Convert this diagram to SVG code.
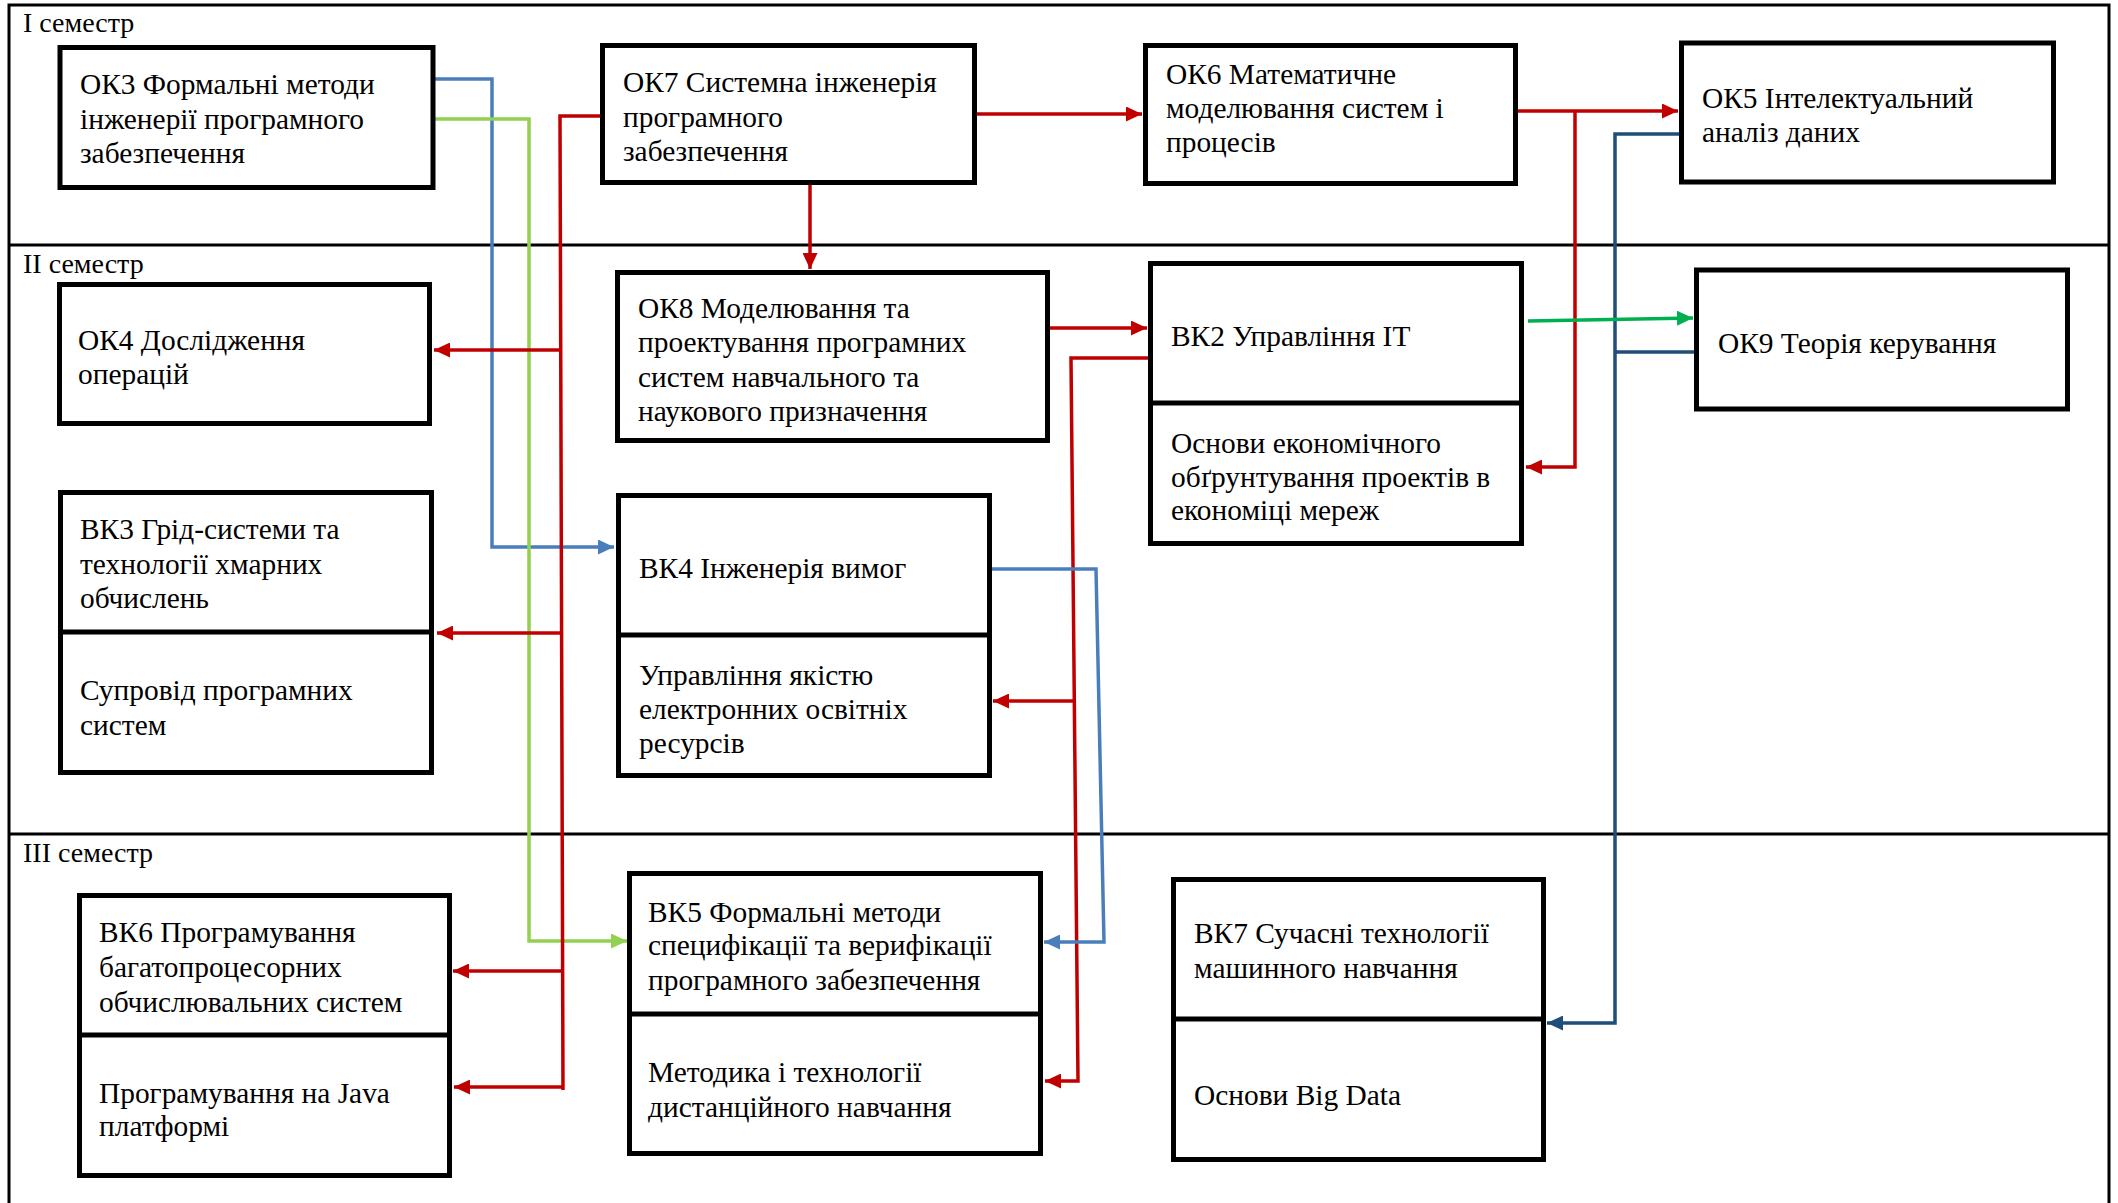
<svg xmlns="http://www.w3.org/2000/svg" width="2118" height="1203" viewBox="0 0 2118 1203">
<style>
  .frame{stroke:#000;stroke-width:3;fill:none}
  .sem{font-family:"Liberation Serif","Times New Roman",serif;font-size:28px;fill:#000}
  .box{fill:#fff;stroke:#000;stroke-width:5}
  .div{stroke:#000;stroke-width:5}
  .t{font-family:"Liberation Serif","Times New Roman",serif;font-size:29.4px;fill:#000}
  .c{fill:none;stroke-width:3.5;stroke-linejoin:miter}
  .red{stroke:#c00000}
  .lblue{stroke:#4a7ebb}
  .lgreen{stroke:#92d050}
  .dblue{stroke:#1f4e79}
  .green{stroke:#00b050}
</style>
<defs>
  <marker id="aRed" markerUnits="userSpaceOnUse" markerWidth="17" markerHeight="15" refX="16" refY="7.5" orient="auto"><path d="M0,0 L16,7.5 L0,15 z" fill="#c00000"/></marker>
  <marker id="aLBlue" markerUnits="userSpaceOnUse" markerWidth="17" markerHeight="15" refX="16" refY="7.5" orient="auto"><path d="M0,0 L16,7.5 L0,15 z" fill="#4a7ebb"/></marker>
  <marker id="aLGreen" markerUnits="userSpaceOnUse" markerWidth="17" markerHeight="15" refX="16" refY="7.5" orient="auto"><path d="M0,0 L16,7.5 L0,15 z" fill="#92d050"/></marker>
  <marker id="aDBlue" markerUnits="userSpaceOnUse" markerWidth="17" markerHeight="15" refX="16" refY="7.5" orient="auto"><path d="M0,0 L16,7.5 L0,15 z" fill="#1f4e79"/></marker>
  <marker id="aGreen" markerUnits="userSpaceOnUse" markerWidth="17" markerHeight="15" refX="16" refY="7.5" orient="auto"><path d="M0,0 L16,7.5 L0,15 z" fill="#00b050"/></marker>
</defs>
<rect width="2118" height="1203" fill="#fff"/>
<g id="frame">
  <path class="frame" d="M9,1203 V5 H2109 V1203"/>
  <line class="frame" x1="9" y1="245" x2="2109" y2="245" stroke-width="2.5"/>
  <line class="frame" x1="9" y1="834" x2="2109" y2="834" stroke-width="2.5"/>
  <text class="sem" x="23" y="32">I семестр</text>
  <text class="sem" x="23" y="273">II семестр</text>
  <text class="sem" x="23" y="862">III семестр</text>
</g>
<g id="connectors">
  <path class="c lblue" d="M435,79 H492 V547 H614" marker-end="url(#aLBlue)"/>
  <path class="c lgreen" d="M435,119 H529 V941 H627" marker-end="url(#aLGreen)"/>
  <path class="c red" d="M600,116 H560 L563,1090"/>
  <path class="c red" d="M561,350 H434" marker-end="url(#aRed)"/>
  <path class="c red" d="M561,633 H437" marker-end="url(#aRed)"/>
  <path class="c red" d="M563,971 H453" marker-end="url(#aRed)"/>
  <path class="c red" d="M563,1087 H454" marker-end="url(#aRed)"/>
  <path class="c red" d="M977,114 H1142" marker-end="url(#aRed)"/>
  <path class="c red" d="M810,185 V269" marker-end="url(#aRed)"/>
  <path class="c red" d="M1518,111 H1678" marker-end="url(#aRed)"/>
  <path class="c red" d="M1575,111 V467 H1526" marker-end="url(#aRed)"/>
  <path class="c dblue" d="M1679,134 H1615 V1023 H1547" marker-end="url(#aDBlue)"/>
  <path class="c dblue" d="M1694,352 H1615"/>
  <path class="c green" d="M1528,321 L1693,318" marker-end="url(#aGreen)"/>
  <path class="c red" d="M1050,328 H1147" marker-end="url(#aRed)"/>
  <path class="c red" d="M1148,358 H1071 L1078,1081 H1045" marker-end="url(#aRed)"/>
  <path class="c red" d="M1073,701 H993" marker-end="url(#aRed)"/>
  <path class="c lblue" d="M992,569 H1096 L1104,942 H1044" marker-end="url(#aLBlue)"/>
</g>
<g id="ok3">
  <rect class="box" x="60" y="47.5" width="373" height="140"/>
  <text class="t" x="80" y="94">ОК3 Формальні методи</text>
  <text class="t" x="80" y="128.5">інженерії програмного</text>
  <text class="t" x="80" y="163">забезпечення</text>
</g>
<g id="ok7">
  <rect class="box" x="602.5" y="45.5" width="372" height="137"/>
  <text class="t" x="623" y="92">ОК7 Системна інженерія</text>
  <text class="t" x="623" y="127">програмного</text>
  <text class="t" x="623" y="161">забезпечення</text>
</g>
<g id="ok6">
  <rect class="box" x="1145.5" y="45.5" width="370" height="138"/>
  <text class="t" x="1166" y="84">ОК6 Математичне</text>
  <text class="t" x="1166" y="118">моделювання систем і</text>
  <text class="t" x="1166" y="152">процесів</text>
</g>
<g id="ok5">
  <rect class="box" x="1681.5" y="43" width="372" height="139"/>
  <text class="t" x="1702" y="108">ОК5 Інтелектуальний</text>
  <text class="t" x="1702" y="142">аналіз даних</text>
</g>
<g id="ok4">
  <rect class="box" x="59.5" y="284.5" width="370" height="139"/>
  <text class="t" x="78" y="350">ОК4 Дослідження</text>
  <text class="t" x="78" y="384">операцій</text>
</g>
<g id="ok8">
  <rect class="box" x="617.5" y="272.5" width="430" height="168"/>
  <text class="t" x="638" y="318">ОК8 Моделювання та</text>
  <text class="t" x="638" y="352">проектування програмних</text>
  <text class="t" x="638" y="387">систем навчального та</text>
  <text class="t" x="638" y="421">наукового призначення</text>
</g>
<g id="vk2">
  <rect class="box" x="1150.5" y="263.5" width="371" height="280"/>
  <line class="div" x1="1150.5" y1="403" x2="1521.5" y2="403"/>
  <text class="t" x="1171" y="346">ВК2 Управління IT</text>
  <text class="t" x="1171" y="453">Основи економічного</text>
  <text class="t" x="1171" y="487">обґрунтування проектів в</text>
  <text class="t" x="1171" y="520">економіці мереж</text>
</g>
<g id="ok9">
  <rect class="box" x="1696.5" y="270" width="371" height="139"/>
  <text class="t" x="1718" y="353">ОК9 Теорія керування</text>
</g>
<g id="vk3">
  <rect class="box" x="60.5" y="492.5" width="371" height="280"/>
  <line class="div" x1="60.5" y1="632" x2="431.5" y2="632"/>
  <text class="t" x="80" y="539">ВК3 Грід-системи та</text>
  <text class="t" x="80" y="574">технології хмарних</text>
  <text class="t" x="80" y="608">обчислень</text>
  <text class="t" x="80" y="700">Супровід програмних</text>
  <text class="t" x="80" y="735">систем</text>
</g>
<g id="vk4">
  <rect class="box" x="618.5" y="495.5" width="371" height="280"/>
  <line class="div" x1="618.5" y1="635" x2="989.5" y2="635"/>
  <text class="t" x="639" y="578">ВК4 Інженерія вимог</text>
  <text class="t" x="639" y="685">Управління якістю</text>
  <text class="t" x="639" y="719">електронних освітніх</text>
  <text class="t" x="639" y="753">ресурсів</text>
</g>
<g id="vk6">
  <rect class="box" x="79.5" y="895.5" width="370" height="280"/>
  <line class="div" x1="79.5" y1="1035" x2="449.5" y2="1035"/>
  <text class="t" x="99" y="942">ВК6 Програмування</text>
  <text class="t" x="99" y="977">багатопроцесорних</text>
  <text class="t" x="99" y="1012">обчислювальних систем</text>
  <text class="t" x="99" y="1103">Програмування на Java</text>
  <text class="t" x="99" y="1136">платформі</text>
</g>
<g id="vk5">
  <rect class="box" x="629.5" y="873.5" width="411" height="280"/>
  <line class="div" x1="629.5" y1="1014" x2="1040.5" y2="1014"/>
  <text class="t" x="648" y="922">ВК5 Формальні методи</text>
  <text class="t" x="648" y="955">специфікації та верифікації</text>
  <text class="t" x="648" y="990">програмного забезпечення</text>
  <text class="t" x="648" y="1082">Методика і технології</text>
  <text class="t" x="648" y="1117">дистанційного навчання</text>
</g>
<g id="vk7">
  <rect class="box" x="1173.5" y="879.5" width="370" height="280"/>
  <line class="div" x1="1173.5" y1="1019" x2="1543.5" y2="1019"/>
  <text class="t" x="1194" y="943">ВК7 Сучасні технології</text>
  <text class="t" x="1194" y="978">машинного навчання</text>
  <text class="t" x="1194" y="1105">Основи Big Data</text>
</g>
</svg>
